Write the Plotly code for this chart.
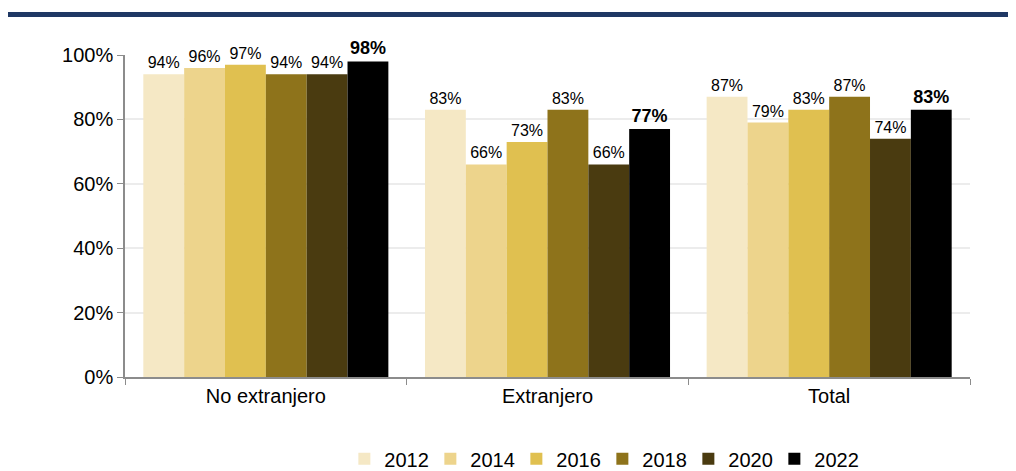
import plotly.graph_objects as go

categorias = ["No extranjero", "Extranjero", "Total"]
anios = ["2012", "2014", "2016", "2018", "2020", "2022"]
valores = {
    "2012": [0.94, 0.83, 0.87],
    "2014": [0.96, 0.66, 0.79],
    "2016": [0.97, 0.73, 0.83],
    "2018": [0.94, 0.83, 0.87],
    "2020": [0.94, 0.66, 0.74],
    "2022": [0.98, 0.77, 0.83],
}
colores = ["#F5E8C5", "#EDD48C", "#E0C050", "#8E731B", "#4A3B10", "#000000"]

fig = go.Figure()
for anio, color in zip(anios, colores):
    bold = anio == "2022"
    textos = [f"{round(v*100)}%" for v in valores[anio]]
    if bold:
        textos = [f"<b>{t}</b>" for t in textos]
    fig.add_trace(go.Bar(
        x=categorias, y=valores[anio], name=anio,
        marker=dict(color=color, line=dict(width=0)),
        text=textos, textposition="outside", cliponaxis=False,
        textfont=dict(size=18 if bold else 16, color="#000000"),
        showlegend=False,
    ))
    # entrada de leyenda con cuadrado
    fig.add_trace(go.Scatter(
        x=[None], y=[None], mode="markers", name=anio,
        marker=dict(symbol="square", size=12, color=color),
    ))

fig.add_shape(type="line", xref="paper", yref="paper",
              x0=-0.16, x1=1.07, y0=1.126, y1=1.126,
              line=dict(color="#1F3864", width=5))

fig.update_layout(
    width=1016, height=471,
    margin=dict(l=117, r=54, t=47, b=102),
    paper_bgcolor="white", plot_bgcolor="white",
    font=dict(family="Liberation Sans, Arial, sans-serif", size=20, color="#000000"),
    barmode="group", bargap=0.13, bargroupgap=0,
    legend=dict(orientation="h", xref="container", yref="container",
                x=0.585, xanchor="center", y=0.043, yanchor="middle",
                font=dict(size=20), entrywidth=41, entrywidthmode="pixels",
                tracegroupgap=0),
    xaxis=dict(showline=True, linecolor="#8c8c8c", linewidth=1.5,
               ticks="outside", tickson="boundaries", ticklen=6, tickcolor="#8c8c8c",
               tickfont=dict(size=20)),
    yaxis=dict(range=[0, 1], tickvals=[0, 0.2, 0.4, 0.6, 0.8, 1.0], tickformat=".0%",
               showline=True, linecolor="#8c8c8c", linewidth=1.5,
               ticks="outside", ticklen=6, tickcolor="#8c8c8c",
               showgrid=True, gridcolor="#ececec", gridwidth=1.5,
               zeroline=False, tickfont=dict(size=20)),
)

fig.write_html("out.html")
